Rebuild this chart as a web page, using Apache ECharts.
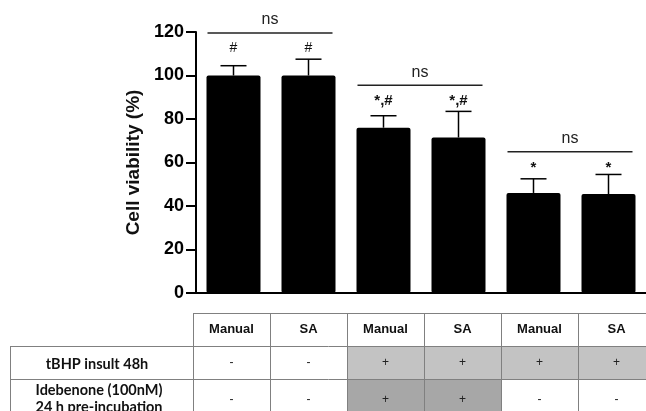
<!DOCTYPE html>
<html>
<head>
<meta charset="utf-8">
<script src="https://cdn.jsdelivr.net/npm/echarts@6/dist/echarts.min.js"></script>
<style>
html,body{margin:0;padding:0;background:#fff;}
#chart{width:646px;height:411px;}
</style>
</head>
<body>
<div id="chart"></div>
<script>
// ---- data ----
var categories = ['Manual', 'SA', 'Manual', 'SA', 'Manual', 'SA'];
var viability = [100, 100, 76, 71.5, 46, 45.5];
var errors = [4.5, 7.5, 5.5, 12, 6.5, 9];
var sigLabels = ['#', '#', '*,#', '*,#', '*', '*'];
var sigLevels = [112.5, 112.5, 88.5, 88.5, 57.5, 57.5];
var nsBrackets = [[0, 1, 119.5], [2, 3, 95.5], [4, 5, 65]];
var yTicks = [0, 20, 40, 60, 80, 100, 120];
var rowLabels = ['tBHP insult 48h', 'Idebenone (100nM)\n24 h pre-incubation'];
var tbhpRow = ['-', '-', '+', '+', '+', '+'];
var idebenoneRow = ['-', '-', '+', '+', '-', '-'];

// ---- chart ----
var chart = echarts.init(document.getElementById('chart'), null, {renderer: 'canvas'});

var gridLeft = 196, gridTop = 32, gridBottomY = 293, colW = 77;
var tableLeft = 10, firstColX = 193;
var headerTop = 313, row1Top = 346, row2Top = 379, row2Bottom = 425;
var borderColor = '#808080';

var graphics = [];
categories.forEach(function (c, i) {
  var x0 = firstColX + i * colW;
  graphics.push({type: 'text', style: {text: c, x: x0 + colW / 2, y: (headerTop + row1Top) / 2, align: 'center', verticalAlign: 'middle', font: 'bold 13px "Liberation Sans", Arial, sans-serif', fill: '#111'}});
});
function addRow(vals, top, bottom, fillColor) {
  vals.forEach(function (v, i) {
    var x0 = firstColX + i * colW;
    if (v === '+') {
      graphics.push({type: 'rect', z: 1, shape: {x: x0, y: top, width: colW, height: bottom - top}, style: {fill: fillColor}});
    }
    var cy = (top + Math.min(bottom, 421)) / 2;
    graphics.push({type: 'text', z: 5, style: {text: v, x: x0 + colW / 2, y: cy, align: 'center', verticalAlign: 'middle', font: '12px "Liberation Sans", Arial, sans-serif', fill: '#222'}});
  });
}
addRow(tbhpRow, row1Top, row2Top, '#c3c3c3');
addRow(idebenoneRow, row2Top, row2Bottom, '#a7a7a7');
graphics.push({type: 'text', z: 5, style: {text: rowLabels[0], x: 97, y: (row1Top + row2Top) / 2 + 2, align: 'center', verticalAlign: 'middle', font: 'bold 14.5px Lato, "Open Sans", sans-serif', fill: '#111'}});
graphics.push({type: 'text', z: 5, style: {text: rowLabels[1], x: 99, y: 399, align: 'center', verticalAlign: 'middle', lineHeight: 17, font: 'bold 14.5px Lato, "Open Sans", sans-serif', fill: '#111'}});
var rightX = 660;
function hline(x1, x2, y) { graphics.push({type: 'line', z: 10, shape: {x1: x1, y1: y, x2: x2, y2: y}, style: {stroke: borderColor, lineWidth: 1}}); }
function vline(x, y1, y2) { graphics.push({type: 'line', z: 10, shape: {x1: x, y1: y1, x2: x, y2: y2}, style: {stroke: borderColor, lineWidth: 1}}); }
hline(firstColX, rightX, headerTop + 0.5);
hline(tableLeft, rightX, row1Top + 0.5);
hline(tableLeft, rightX, row2Top + 0.5);
vline(tableLeft + 0.5, row1Top, row2Bottom);
for (var k = 0; k < categories.length; k++) {
  vline(firstColX + k * colW + 0.5, headerTop, row2Bottom);
}

var option = {
  backgroundColor: '#fff',
  animation: false,
  grid: {left: gridLeft, top: gridTop, width: categories.length * colW, height: gridBottomY - gridTop},
  xAxis: {
    type: 'category',
    data: categories,
    axisLine: {lineStyle: {color: '#000', width: 2}},
    axisTick: {show: false},
    axisLabel: {show: false}
  },
  yAxis: {
    type: 'value',
    min: yTicks[0], max: yTicks[yTicks.length - 1], interval: 20,
    name: 'Cell viability (%)',
    nameLocation: 'middle',
    nameGap: 46,
    nameRotate: 90,
    nameTextStyle: {fontFamily: '"Liberation Sans", Arial, sans-serif', fontWeight: 'bold', fontSize: 19, color: '#111'},
    axisLine: {show: true, lineStyle: {color: '#000', width: 2}},
    axisTick: {show: true, length: 10, lineStyle: {color: '#000', width: 2}},
    axisLabel: {fontFamily: '"Liberation Sans", Arial, sans-serif', fontWeight: 'bold', fontSize: 18, color: '#000', margin: 12},
    splitLine: {show: false}
  },
  graphic: graphics,
  series: [
    {
      type: 'bar',
      data: viability,
      barWidth: 54,
      itemStyle: {color: '#000', borderRadius: 2},
      z: 2
    },
    {
      type: 'custom',
      z: 3,
      data: viability.map(function (v, i) { return [i, v, errors[i]]; }),
      renderItem: function (params, api) {
        var base = api.coord([api.value(0), api.value(1)]);
        var top = api.coord([api.value(0), api.value(1) + api.value(2)]);
        var half = 13;
        return {type: 'group', children: [
          {type: 'line', shape: {x1: base[0], y1: base[1], x2: base[0], y2: top[1]}, style: {stroke: '#000', lineWidth: 1.5}},
          {type: 'line', shape: {x1: base[0] - half, y1: top[1], x2: base[0] + half, y2: top[1]}, style: {stroke: '#000', lineWidth: 1.5}}
        ]};
      }
    },
    {
      type: 'custom',
      z: 3,
      data: sigLevels.map(function (v, i) { return [i, v]; }),
      renderItem: function (params, api) {
        var p = api.coord([api.value(0), api.value(1)]);
        var t = sigLabels[params.dataIndex];
        var f = t === '#' ? '14px' : 'bold 15px';
        return {type: 'text', style: {text: t, x: p[0], y: p[1], align: 'center', verticalAlign: 'middle', font: f + ' "Liberation Sans", Arial, sans-serif', fill: '#111'}};
      }
    },
    {
      type: 'custom',
      z: 3,
      data: nsBrackets,
      renderItem: function (params, api) {
        var a = api.coord([api.value(0), api.value(2)]);
        var b = api.coord([api.value(1), api.value(2)]);
        var x1 = a[0] - 26, x2 = b[0] + 24;
        return {type: 'group', children: [
          {type: 'line', shape: {x1: x1, y1: a[1], x2: x2, y2: a[1]}, style: {stroke: '#222', lineWidth: 1.5}},
          {type: 'text', style: {text: 'ns', x: (x1 + x2) / 2, y: a[1] - 13, align: 'center', verticalAlign: 'middle', font: '16px "Liberation Sans", Arial, sans-serif', fill: '#222'}}
        ]};
      }
    }
  ]
};
chart.setOption(option);
</script>
</body>
</html>
